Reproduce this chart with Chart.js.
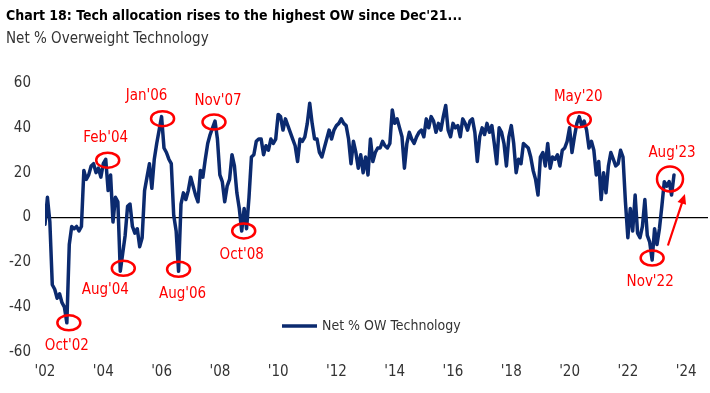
<!DOCTYPE html>
<html lang="en">
<head>
    <meta charset="UTF-8">
    <title>Chart 18</title>
    <style>
        body { margin: 0; width: 710px; height: 393px; overflow: hidden; background: #fff;
               font-family: 'Liberation Sans Narrow', 'DejaVu Sans Condensed', sans-serif; }
        #wrap { position: absolute; left: 0; top: 0; width: 710px; height: 393px; }
        .head { position: absolute; left: 6px; z-index: 2; white-space: nowrap; }
        #title { top: 7px; font-size: 14px; font-weight: bold; color: #000; }
        #subtitle { top: 29px; font-size: 15px; color: #333; }
    </style>
</head>
<body>
    <div id="wrap"><canvas id="tech_ow_chart"></canvas></div>
    <div class="head" id="title">Chart 18: Tech allocation rises to the highest OW since Dec'21...</div>
    <div class="head" id="subtitle">Net % Overweight Technology</div>
</body>
<script src="https://cdn.jsdelivr.net/npm/chart.js"></script>
<script>
    // monthly readings, Jan'02 .. Aug'23
    const startYear = 2002;
    const seriesLabel = 'Net % OW Technology';
    const netOW = [
        -3, 9, -2, -30, -32, -36, -34, -38, -40, -47, -12, -4,      // 2002
        -5, -4, -6, -4, 21, 17, 19, 23, 24, 20, 22, 18,             // 2003
        24, 26, 12, 19, -2, 9, 7, -24, -16, -8, 5, 6,               // 2004
        -4, -7, -5, -13, -9, 12, 18, 24, 13, 26, 33, 39,            // 2005
        45, 31, 29, 26, 24, 1, -6, -24, 6, 11, 8, 12,               // 2006
        18, 14, 10, 7, 21, 18, 26, 33, 37, 40, 43, 35,              // 2007
        19, 16, 7, 14, 17, 28, 23, 11, 4, -6, 4, -5,                // 2008
        9, 27, 28, 34, 35, 35, 28, 32, 30, 35, 33, 35,              // 2009
        46, 45, 39, 44, 41, 38, 35, 32, 25, 35, 34, 36,             // 2010
        42, 51, 42, 35, 35, 29, 27, 31, 35, 39, 35, 39,             // 2011
        41, 42, 44, 42, 41, 35, 24, 34, 29, 22, 28, 20,             // 2012
        27, 19, 35, 25, 29, 31, 31, 34, 32, 31, 33, 48,             // 2013
        42, 44, 40, 36, 22, 33, 38, 35, 33, 36, 38, 39,             // 2014
        36, 44, 40, 45, 43, 38, 42, 39, 45, 50, 39, 36,             // 2015
        42, 40, 41, 36, 44, 42, 39, 43, 44, 38, 25, 36,             // 2016
        40, 37, 42, 38, 41, 33, 24, 40, 38, 33, 23, 36,             // 2017
        41, 33, 20, 26, 24, 33, 32, 31, 27, 21, 17, 10,             // 2018
        27, 29, 23, 33, 22, 27, 26, 28, 23, 30, 31, 34,             // 2019
        40, 29, 36, 42, 45, 41, 43, 39, 31, 34, 30, 19,             // 2020
        25, 8, 20, 11, 23, 29, 26, 23, 24, 30, 27, 7,               // 2021
        -9, 4, -6, 10, -7, -9, -4, 8, -8, -11, -19, -5,             // 2022
        -12, -5, 5, 16, 14, 16, 10, 19                              // 2023
    ];
    const xTickLabels = ["'02", "'04", "'06", "'08", "'10", "'12", "'14", "'16", "'18", "'20", "'22", "'24"];
    const yTickValues = [-60, -40, -20, 0, 20, 40, 60];
    const calloutLabels = ["Oct'02", "Feb'04", "Aug'04", "Jan'06", "Aug'06", "Nov'07", "Oct'08", "May'20", "Nov'22", "Aug'23"];

    const monthNames = ['Jan', 'Feb', 'Mar', 'Apr', 'May', 'Jun', 'Jul', 'Aug', 'Sep', 'Oct', 'Nov', 'Dec'];
    const monthIndex = s => (2000 + +s.slice(4) - startYear) * 12 + monthNames.indexOf(s.slice(0, 3));
    const tickMonth = s => (2000 + +s.slice(1) - startYear) * 12;

    const FONT = "'Liberation Sans Narrow', 'DejaVu Sans Condensed', sans-serif";
    const NAVY = '#0b2a6f';
    const RED = '#ff0000';

    // ring offset from the point, label offset from the ring (px)
    const calloutStyle = {
        "Oct'02": {ring: [2, 0], text: [-2, 23]},
        "Feb'04": {ring: [2, 1], text: [-2, -22]},
        "Aug'04": {ring: [3, -3], text: [-18, 22]},
        "Jan'06": {ring: [1, 2], text: [-16, -23]},
        "Aug'06": {ring: [0, -2], text: [4, 25]},
        "Nov'07": {ring: [-1, 1], text: [4, -21]},
        "Oct'08": {ring: [2, 0], text: [-2, 24]},
        "May'20": {ring: [0, 3], text: [-1, -23]},
        "Nov'22": {ring: [0, -2], text: [-2, 24]},
        "Aug'23": {ring: [-4, 4], text: [2, -26], rx: 13, ry: 12.5}
    };
    const arrowFrom = {x: 256.5, y: -12.5};
    const arrowTo = {x: 263.5, y: 10.5};

    const calloutPlugin = {
        id: 'callouts',
        afterDatasetsDraw(chart) {
            const {ctx} = chart;
            const xs = chart.scales.x, ys = chart.scales.y;
            ctx.save();
            ctx.strokeStyle = RED;
            ctx.fillStyle = RED;
            ctx.lineWidth = 2.5;
            ctx.font = '15px ' + FONT;
            ctx.textAlign = 'center';
            ctx.textBaseline = 'middle';
            calloutLabels.forEach(label => {
                const i = monthIndex(label);
                const st = calloutStyle[label];
                const cx = xs.getPixelForValue(i) + st.ring[0];
                const cy = ys.getPixelForValue(netOW[i]) + st.ring[1];
                ctx.beginPath();
                ctx.ellipse(cx, cy, st.rx || 11.5, st.ry || 7.5, 0, 0, Math.PI * 2);
                ctx.stroke();
                ctx.fillText(label, cx + st.text[0], cy + st.text[1]);
            });
            // arrow
            const x1 = xs.getPixelForValue(arrowFrom.x), y1 = ys.getPixelForValue(arrowFrom.y);
            const x2 = xs.getPixelForValue(arrowTo.x), y2 = ys.getPixelForValue(arrowTo.y);
            const a = Math.atan2(y2 - y1, x2 - x1);
            ctx.lineWidth = 2.2;
            ctx.beginPath();
            ctx.moveTo(x1, y1);
            ctx.lineTo(x2 - 7 * Math.cos(a), y2 - 7 * Math.sin(a));
            ctx.stroke();
            ctx.beginPath();
            ctx.moveTo(x2, y2);
            ctx.lineTo(x2 - 10 * Math.cos(a) + 4.5 * Math.sin(a), y2 - 10 * Math.sin(a) - 4.5 * Math.cos(a));
            ctx.lineTo(x2 - 10 * Math.cos(a) - 4.5 * Math.sin(a), y2 - 10 * Math.sin(a) + 4.5 * Math.cos(a));
            ctx.closePath();
            ctx.fill();
            ctx.restore();
        }
    };

    const legendPlugin = {
        id: 'insideLegend',
        afterDraw(chart) {
            const {ctx} = chart;
            const lx = 282, ly = 326;
            ctx.save();
            ctx.strokeStyle = NAVY;
            ctx.lineWidth = 3.5;
            ctx.beginPath();
            ctx.moveTo(lx, ly);
            ctx.lineTo(lx + 35, ly);
            ctx.stroke();
            ctx.fillStyle = '#333';
            ctx.font = '14px ' + FONT;
            ctx.textBaseline = 'middle';
            ctx.fillText(seriesLabel, lx + 40, ly);
            ctx.restore();
        }
    };

    Chart.defaults.font.family = FONT;

    const ctx = document.getElementById('tech_ow_chart').getContext('2d');
    new Chart(ctx, {
        type: 'line',
        data: {
            datasets: [{
                label: seriesLabel,
                data: netOW.map((v, i) => ({x: i, y: v})),
                borderColor: NAVY,
                borderWidth: 3.5,
                pointRadius: 0,
                tension: 0,
                borderJoinStyle: 'round',
                borderCapStyle: 'round'
            }]
        },
        options: {
            responsive: true,
            maintainAspectRatio: false,
            animation: false,
            layout: {padding: {top: 83, right: 2, bottom: 0, left: 0}},
            plugins: {legend: {display: false}, tooltip: {enabled: false}},
            scales: {
                x: {
                    type: 'linear',
                    min: 0,
                    max: 273,
                    afterBuildTicks: s => { s.ticks = xTickLabels.map(t => ({value: tickMonth(t)})); },
                    afterFit: s => { s.height = 41; },
                    ticks: {
                        autoSkip: false,
                        maxRotation: 0,
                        padding: 11,
                        color: '#333',
                        font: {size: 15},
                        callback: v => xTickLabels[v / 24]
                    },
                    grid: {display: false, drawTicks: false},
                    border: {display: false}
                },
                y: {
                    min: -60,
                    max: 60,
                    afterBuildTicks: s => { s.ticks = yTickValues.map(v => ({value: v})); },
                    afterFit: s => { s.width = 45; },
                    ticks: {padding: 14, color: '#333', font: {size: 15}},
                    grid: {
                        drawTicks: false,
                        lineWidth: 1.2,
                        color: c => c.tick && c.tick.value === 0 ? '#000' : 'rgba(0,0,0,0)'
                    },
                    border: {display: false}
                }
            }
        },
        plugins: [calloutPlugin, legendPlugin]
    });
</script>
</html>
